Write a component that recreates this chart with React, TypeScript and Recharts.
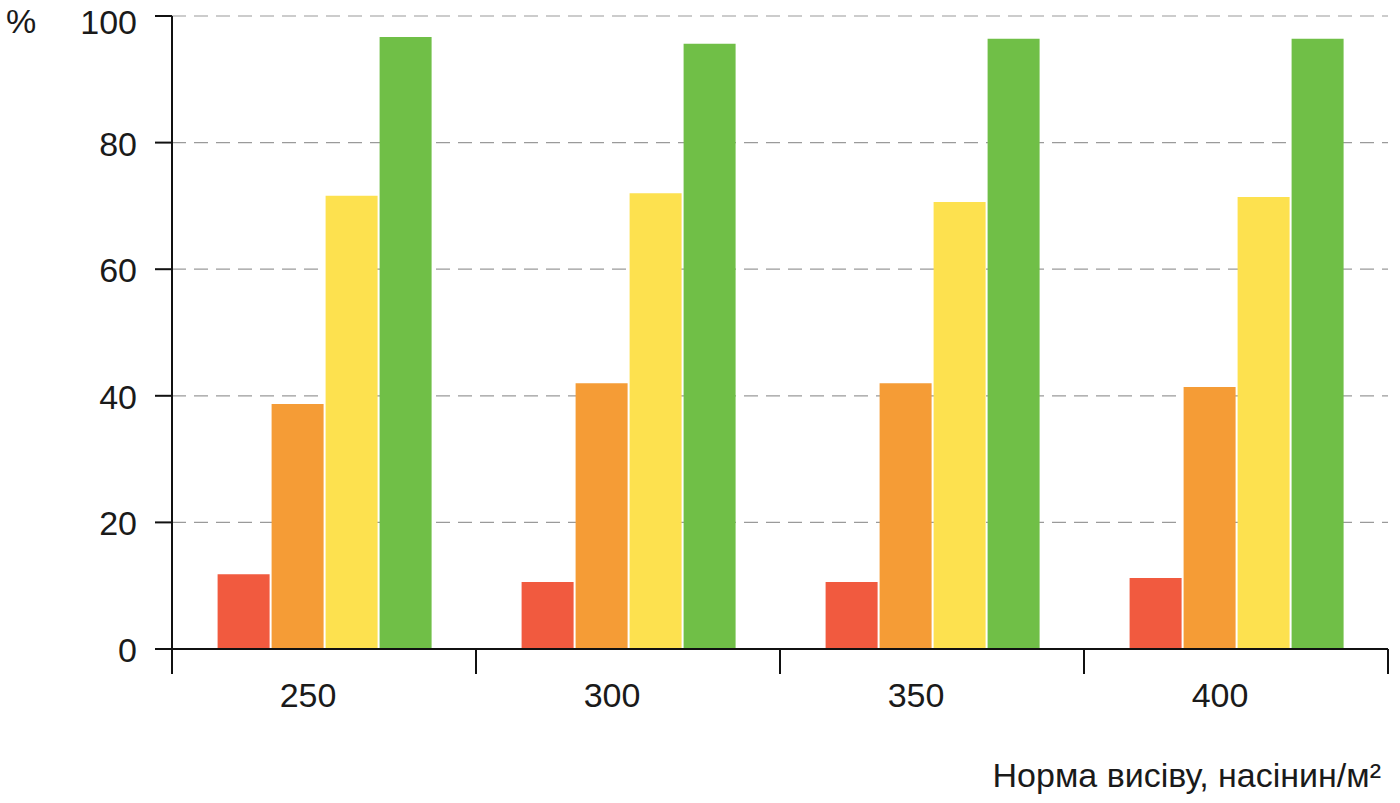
import React from 'react';
import { BarChart, Bar, XAxis, YAxis, CartesianGrid } from 'recharts';

const rates = ['250', '300', '350', '400'];
const redValues = [11.8, 10.6, 10.6, 11.2];
const orangeValues = [38.7, 42.0, 42.0, 41.4];
const yellowValues = [71.6, 72.0, 70.6, 71.4];
const greenValues = [96.7, 95.6, 96.4, 96.4];
const yTicks = [0, 20, 40, 60, 80, 100];

const data = rates.map((rate, i) => ({
  rate,
  red: redValues[i],
  orange: orangeValues[i],
  yellow: yellowValues[i],
  green: greenValues[i],
}));

const WIDTH = 1400;
const HEIGHT = 803;
const PLOT_LEFT = 172;
const PLOT_RIGHT = 1388;
const PLOT_TOP = 16;
const AXIS_Y = 649;
const BAND = (PLOT_RIGHT - PLOT_LEFT) / rates.length;
const FONT = '"Liberation Sans", Arial, Helvetica, sans-serif';
const FONT_SIZE = 34;
const TEXT_COLOR = '#1a1a1a';

const CategoryTick = (props: any) => {
  const { x, index } = props;
  return (
    <g>
      <line x1={x - BAND / 2} x2={x - BAND / 2} y1={AXIS_Y} y2={AXIS_Y + 25} stroke="#111" strokeWidth={2} />
      {index === rates.length - 1 && (
        <line x1={x + BAND / 2} x2={x + BAND / 2} y1={AXIS_Y} y2={AXIS_Y + 25} stroke="#111" strokeWidth={2} />
      )}
      <text x={x - 16} y={AXIS_Y + 58} textAnchor="middle" fontSize={FONT_SIZE} fontFamily={FONT} fill={TEXT_COLOR}>
        {props.payload.value}
      </text>
    </g>
  );
};

const ValueTick = (props: any) => {
  const { y, payload } = props;
  const shift = payload.value === 100 ? 6 : 1;
  return (
    <text
      x={137}
      y={y + shift}
      dy="0.355em"
      textAnchor="end"
      fontSize={FONT_SIZE}
      fontFamily={FONT}
      fill={TEXT_COLOR}
    >
      {payload.value}
    </text>
  );
};

const App: React.FC = () => {
  return (
    <div style={{ position: 'absolute', left: 0, top: 0, width: WIDTH, height: HEIGHT, background: '#fff' }}>
      <BarChart
        width={WIDTH}
        height={HEIGHT}
        data={data}
        margin={{ top: PLOT_TOP, right: WIDTH - PLOT_RIGHT, left: 0, bottom: 0 }}
        barCategoryGap="15%"
        barGap={2}
      >
        <CartesianGrid vertical={false} stroke="#9a9a9a" strokeDasharray="14 8" strokeWidth={1.2} />
        <XAxis
          dataKey="rate"
          height={HEIGHT - AXIS_Y}
          tickLine={false}
          axisLine={{ stroke: '#111', strokeWidth: 2 }}
          tick={<CategoryTick />}
          interval={0}
          label={{
            content: () => (
              <text x={1381} y={787} textAnchor="end" fontSize={FONT_SIZE} fontFamily={FONT} fill={TEXT_COLOR}>
                Норма висіву, насінин/м²
              </text>
            ),
          }}
        />
        <YAxis
          width={PLOT_LEFT}
          domain={[0, 100]}
          ticks={yTicks}
          interval={0}
          tickSize={17}
          tickLine={{ stroke: '#111', strokeWidth: 2 }}
          axisLine={{ stroke: '#111', strokeWidth: 2 }}
          tick={<ValueTick />}
          label={{
            content: () => (
              <text x={6} y={33} fontSize={FONT_SIZE} fontFamily={FONT} fill={TEXT_COLOR}>
                %
              </text>
            ),
          }}
        />
        <Bar dataKey="red" fill="#F15A3F" isAnimationActive={false} />
        <Bar dataKey="orange" fill="#F59C36" isAnimationActive={false} />
        <Bar dataKey="yellow" fill="#FDE14F" isAnimationActive={false} />
        <Bar dataKey="green" fill="#70BF47" isAnimationActive={false} />
      </BarChart>
    </div>
  );
};

export default App;
